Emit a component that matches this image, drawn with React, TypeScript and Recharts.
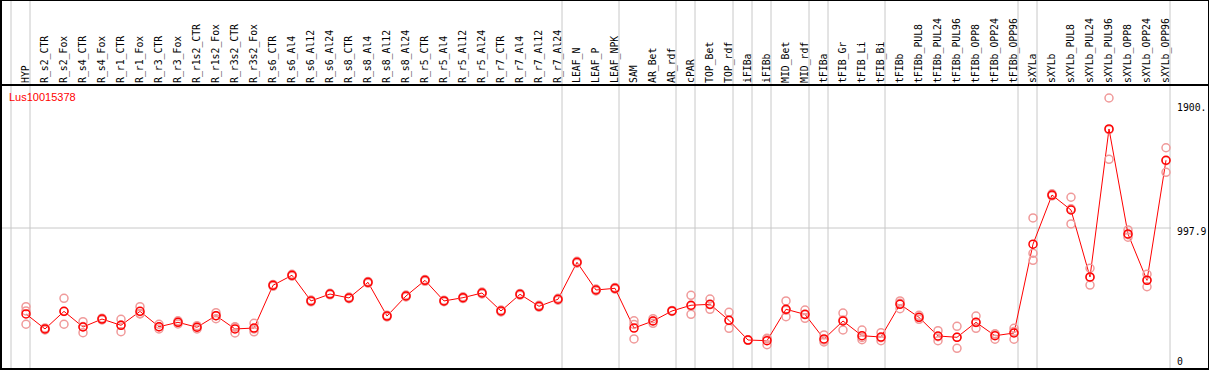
import React from "react";
import { ComposedChart, Line, XAxis, YAxis, ReferenceLine } from "recharts";

// sample names, in plot order
const categories = [
  "HYP", "R_s2_CTR", "R_s2_Fox", "R_s4_CTR", "R_s4_Fox", "R_r1_CTR", "R_r1_Fox", "R_r3_CTR", "R_r3_Fox",
  "R_r1s2_CTR", "R_r1s2_Fox", "R_r3s2_CTR", "R_r3s2_Fox", "R_s6_CTR", "R_s6_Al4", "R_s6_Al12", "R_s6_Al24",
  "R_s8_CTR", "R_s8_Al4", "R_s8_Al12", "R_s8_Al24", "R_r5_CTR", "R_r5_Al4", "R_r5_Al12", "R_r5_Al24",
  "R_r7_CTR", "R_r7_Al4", "R_r7_Al12", "R_r7_Al24", "LEAF_N", "LEAF_P", "LEAF_NPK", "SAM", "AR_Bet", "AR_rdf",
  "cPAR", "TOP_Bet", "TOP_rdf", "iFIBa", "iFIBb", "MID_Bet", "MID_rdf", "tFIBa", "tFIB_Gr", "tFIB_Li", "tFIB_Bi",
  "tFIBb", "tFIBb_PUL8", "tFIBb_PUL24", "tFIBb_PUL96", "tFIBb_OPP8", "tFIBb_OPP24", "tFIBb_OPP96", "sXYLa",
  "sXYLb", "sXYLb_PUL8", "sXYLb_PUL24", "sXYLb_PUL96", "sXYLb_OPP8", "sXYLb_OPP24", "sXYLb_OPP96",
];

const means = [
  338, 223, 358, 238, 299, 251, 358, 240, 274, 236, 325, 223, 230, 558, 635, 438, 491, 461, 581, 322, 476,
  596, 438, 463, 499, 361, 489, 397, 451, 735, 522, 535, 230, 284, 361, 405, 412, 289, 138, 133, 374, 335,
  146, 284, 171, 161, 412, 312, 169, 159, 274, 171, 192, 874, 1251, 1136, 622, 1758, 952, 596, 1518,
];

const rep1 = [
  394, 215, 458, 279, 292, 297, 394, 259, 286, 248, 348, 240, 266, 565, 642, 445, 497, 468, 588, 329, 483,
  603, 444, 470, 506, 368, 496, 404, 458, 742, 529, 542, 286, 302, 357, 481, 453, 351, 136, 146, 438, 368,
  177, 345, 215, 194, 438, 328, 210, 243, 322, 184, 228, 1075, 1260, 1234, 689, 1995.8, 983, 642, 1614,
];

const rep2 = [
  259, 231, 259, 194, 306, 202, 338, 223, 261, 223, 302, 192, 223, 550, 628, 431, 485, 455, 574, 315, 469,
  589, 432, 456, 492, 354, 482, 390, 444, 728, 515, 528, 146, 266, 365, 335, 374, 228, 141, 102, 317, 305,
  123, 215, 140, 133, 378, 297, 133, 74, 228, 144, 144, 804, 1245, 1029, 560, 1525, 927, 547, 1425,
];

const rep3 = [
  361, 223, 357, 241, 299, 254, 342, 238, 275, 237, 325, 237, 201, 559, 635, 438, 491, 460, 581, 322, 476,
  596, 438, 463, 499, 361, 489, 397, 451, 735, 522, 535, 258, 284, 361, 399, 409, 288, 137, 151, 367, 332,
  138, 292, 158, 156, 420, 311, 164, 160, 272, 185, 204, 750, 1248, 1145, 617, 1753, 946, 599, 1515,
];

// index of the last sample in each group (-1 = left edge)
const groupEnds = [-1, 0, 28, 31, 34, 35, 37, 38, 39, 41, 42, 45, 52, 53, 60];

const yTicks = [0, 997.9, 1995.8];
const yTickLabels = ["0", "997.9", "1900."];

const data = categories.map((name, i) => ({
  x: i,
  name,
  mean: means[i],
  r1: rep1[i],
  r2: rep2[i],
  r3: rep3[i],
}));

const W = 1209;
const H = 370;
const mono = "'DejaVu Sans Mono', monospace";
const repDot = { r: 4, stroke: "#f09a9a", strokeWidth: 1.5, fill: "none" };

const CatTick = (props: any) => {
  const { x, payload } = props;
  const tx = x + 3;
  const ty = 83;
  return (
    <text x={tx} y={ty} transform={`rotate(-90 ${tx} ${ty})`} fontFamily={mono} fontSize={9.8} fill="#000">
      {categories[payload.value]}
    </text>
  );
};

const ValTick = (props: any) => {
  const { y, payload, index } = props;
  const idx = yTicks.indexOf(payload.value);
  const ty = index === yTicks.length - 1 ? y + 9 : y + 3;
  return (
    <text x={1177} y={ty} dominantBaseline="central" fontFamily={mono} fontSize={9.8} fill="#000">
      {yTickLabels[idx]}
    </text>
  );
};

const line = (s: React.CSSProperties) => (
  <div style={{ position: "absolute", background: "#000", pointerEvents: "none", ...s }} />
);

export default function App() {
  return (
    <div style={{ position: "relative", width: W, height: H, background: "#fff" }}>
      <style>{"body{margin:0}"}</style>
      <ComposedChart width={W} height={H} data={data} margin={{ top: 0, right: 0, bottom: 0, left: 0 }}>
        <XAxis
          dataKey="x"
          type="number"
          orientation="top"
          height={1}
          domain={[-26 / 19, -26 / 19 + 1171 / 19]}
          allowDataOverflow
          ticks={categories.map((_, i) => i)}
          interval={0}
          axisLine={false}
          tickLine={false}
          tick={<CatTick />}
        />
        <YAxis
          orientation="right"
          width={38}
          domain={[-92.1, 2740.4]}
          allowDataOverflow
          ticks={yTicks}
          interval={0}
          axisLine={false}
          tickLine={false}
          tick={<ValTick />}
        />
        {groupEnds.map((g) => (
          <ReferenceLine key={g} x={g + 4 / 19} stroke="#c8c8c8" strokeWidth={1} />
        ))}
        <ReferenceLine y={997.9} stroke="#c8c8c8" strokeWidth={1} />
        <Line dataKey="r1" stroke="none" dot={repDot} activeDot={false} isAnimationActive={false} />
        <Line dataKey="r2" stroke="none" dot={repDot} activeDot={false} isAnimationActive={false} />
        <Line dataKey="r3" stroke="none" dot={repDot} activeDot={false} isAnimationActive={false} />
        <Line
          dataKey="mean"
          type="linear"
          stroke="#ff0000"
          strokeWidth={1}
          dot={{ r: 4, stroke: "#ff0000", strokeWidth: 1.5, fill: "none" }}
          activeDot={false}
          isAnimationActive={false}
        />
      </ComposedChart>
      {line({ left: 0, top: 0, width: 2, height: H })}
      {line({ left: 0, top: 0, width: W, height: 1 })}
      {line({ left: W - 1, top: 0, width: 1, height: H })}
      {line({ left: 0, top: 368, width: W, height: 2 })}
      {line({ left: 0, top: 84, width: W, height: 2 })}
      <div
        style={{
          position: "absolute",
          left: 9,
          top: 90,
          fontFamily: "'Liberation Sans', Arial, sans-serif",
          fontSize: 11,
          lineHeight: "14px",
          color: "#ff0000",
        }}
      >
        Lus10015378
      </div>
    </div>
  );
}
